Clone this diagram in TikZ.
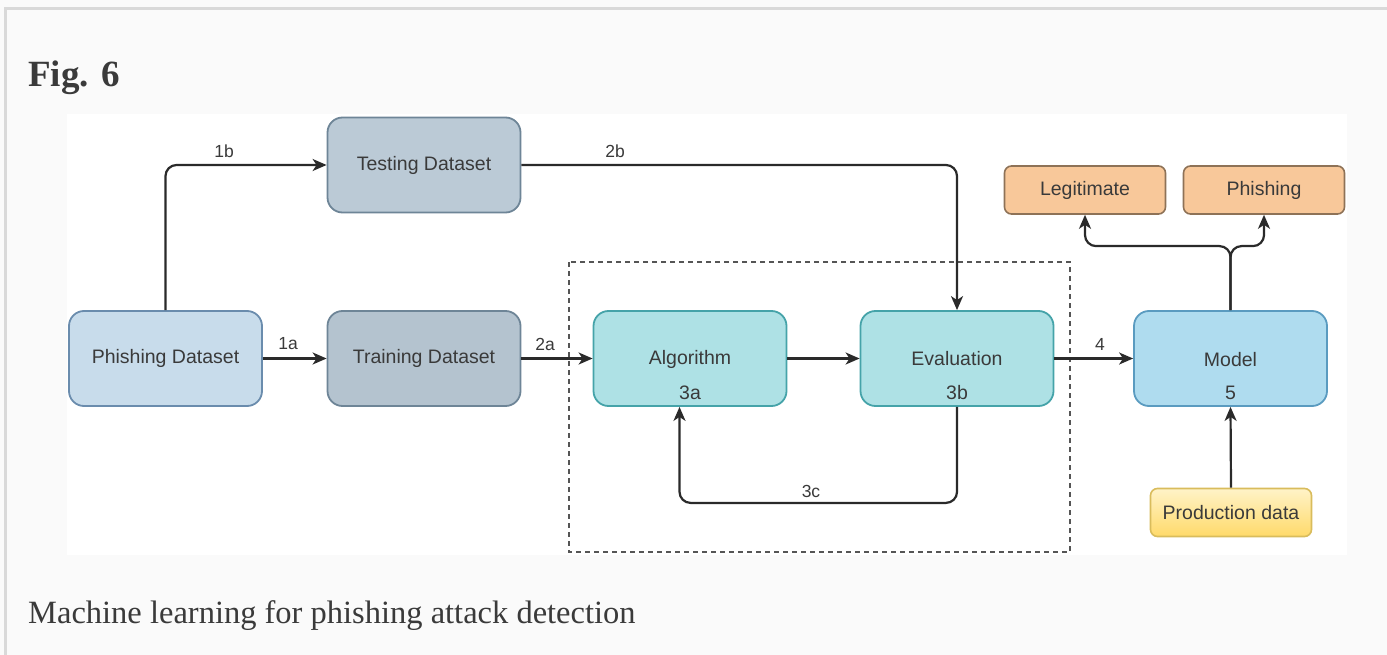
\documentclass[tikz,border=0pt]{standalone}
\usepackage{fontspec}
\setmainfont{Liberation Sans}
\newfontfamily\serifT{Liberation Serif}
\usetikzlibrary{arrows.meta,calc}
\definecolor{pagebg}{HTML}{FAFAFA}
\definecolor{bordercol}{HTML}{D9D9D9}
\definecolor{txt}{HTML}{3A3A3A}
\definecolor{conncol}{HTML}{2A2A2A}
\definecolor{phishfill}{HTML}{C8DCEB}
\definecolor{phishdraw}{HTML}{6A8CAD}
\definecolor{trainfill}{HTML}{B4C3CF}
\definecolor{testfill}{HTML}{BBCAD6}
\definecolor{graydraw}{HTML}{6E8597}
\definecolor{tealfill}{HTML}{AEE1E5}
\definecolor{tealdraw}{HTML}{45A3A9}
\definecolor{modelfill}{HTML}{AFDCEF}
\definecolor{modeldraw}{HTML}{5A9BC0}
\definecolor{orangefill}{HTML}{F8C89A}
\definecolor{orangedraw}{HTML}{8E7257}
\definecolor{prodtop}{HTML}{FFF3C8}
\definecolor{prodbot}{HTML}{FFDA6A}
\definecolor{proddraw}{HTML}{D9BC5C}
\begin{document}
\begin{tikzpicture}[x=1pt,y=-1pt,
  lbl/.style={font=\fontsize{19.5}{23}\selectfont, text=txt},
  edgelbl/.style={font=\fontsize{17.5}{20}\selectfont, text=txt, inner sep=0pt},
  bigbox/.style={draw, rounded corners=15pt, line width=1.8pt, minimum width=193pt, minimum height=95pt, lbl},
  smallbox/.style={draw, rounded corners=7pt, line width=1.6pt, minimum width=161pt, minimum height=48pt, lbl},
  conn/.style={draw=conncol, line width=2.2pt, rounded corners=11pt, -{Stealth[length=14pt,width=12pt,inset=4pt]}},
]
\useasboundingbox (0,0) rectangle (1387,655);
\fill[pagebg] (0,0) rectangle (1387,655);
\draw[bordercol, line width=3pt] (5.5,655) -- (5.5,9) -- (1387,9);
\fill[white] (67,114) rectangle (1347,555);

% title
\node[anchor=base west, inner sep=0pt, font=\serifT\bfseries\fontsize{37}{42}\selectfont, text=txt] (title) at (28,87) {Fig. 6};

% dashed group
\draw[draw=conncol!80, line width=1.7pt, dash pattern=on 5pt off 4pt] (569,262) rectangle (1070,552);

% nodes
\node[bigbox, fill=phishfill, draw=phishdraw] (phish) at (165.5,358.5) {Phishing Dataset};
\node[bigbox, fill=trainfill, draw=graydraw] (train) at (424,358.5) {Training Dataset};
\node[bigbox, fill=testfill, draw=graydraw] (test) at (424,165) {Testing Dataset};
\node[bigbox, fill=tealfill, draw=tealdraw] (alg) at (690,358.5) {};
\node[lbl, inner sep=0pt] (algt) at (690,359) {Algorithm};
\node[lbl, inner sep=0pt] (alg3a) at (690,393) {3a};
\node[bigbox, fill=tealfill, draw=tealdraw] (eval) at (957,358.5) {};
\node[lbl, inner sep=0pt] (evalt) at (957,359) {Evaluation};
\node[lbl, inner sep=0pt] (eval3b) at (957,393) {3b};
\node[bigbox, fill=modelfill, draw=modeldraw] (model) at (1230.5,358.5) {};
\node[lbl, inner sep=0pt] (modelt) at (1230.5,360) {Model};
\node[lbl, inner sep=0pt] (model5) at (1230.5,393) {5};
\node[smallbox, fill=orangefill, draw=orangedraw] (legit) at (1085,190) {Legitimate};
\node[smallbox, fill=orangefill, draw=orangedraw] (phishout) at (1264,190) {Phishing};
\node[smallbox, top color=prodtop, bottom color=prodbot, draw=proddraw] (prod) at (1231,512.5) {Production data};

% connectors
\draw[conn] (phish.east) -- (train.west);
\draw[conn] (phish.north) |- (test.west);
\draw[conn] (test.east) -| (eval.north);
\draw[conn] (train.east) -- (alg.west);
\draw[conn] (alg.east) -- (eval.west);
\coordinate (loopend) at ($(alg.south)+(-10.5,0)$);
\draw[conn] (eval.south) -- ($(eval.south)+(0,96)$) -| (loopend);
\draw[conn] (eval.east) -- (model.west);
\draw[conn] (prod.north) -- (model.south);
\coordinate (split) at ($(model.north)+(0,-64)$);
\draw[conn] (model.north) -- (split) -| (legit.south);
\draw[conn] (model.north) -- (split) -| (phishout.south);

% edge labels
\node[edgelbl] (l1a) at (288,344) {1a};
\node[edgelbl] (l1b) at (224,151) {1b};
\node[edgelbl] (l2b) at (615,151) {2b};
\node[edgelbl] (l2a) at (545,344) {2a};
\node[edgelbl] (l3c) at (811,491) {3c};
\node[edgelbl] (l4) at (1100,344) {4};

% caption
\node[anchor=base west, inner sep=0pt, font=\serifT\fontsize{32.5}{38}\selectfont, text=txt] (cap) at (28,623) {Machine learning for phishing attack detection};
\end{tikzpicture}
\end{document}
